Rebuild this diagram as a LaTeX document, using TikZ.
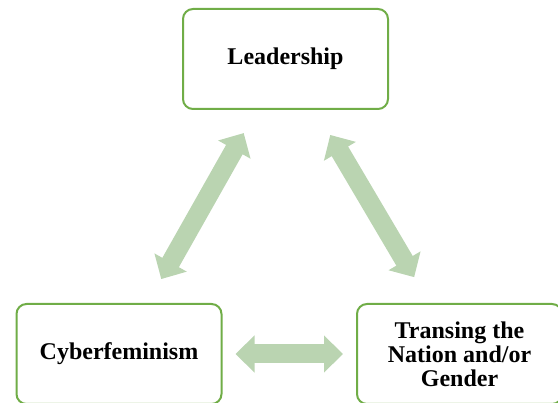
\documentclass[tikz,border=0pt]{standalone}
\usepackage{fontspec}
\setmainfont{Liberation Serif}
\usetikzlibrary{arrows.meta}
\definecolor{boxgreen}{HTML}{70AD47}
\definecolor{arrowgreen}{HTML}{BAD4B1}
\tikzset{
  conceptbox/.style={draw=boxgreen, line width=2pt, rounded corners=10pt,
    minimum width=205pt, minimum height=100pt, align=center,
    font=\fontsize{24}{24}\selectfont\bfseries, fill=white},
  bigarrow/.style={draw=arrowgreen, line width=19pt,
    {Triangle[length=19pt,width=36pt]}-{Triangle[length=19pt,width=36pt]}}
}
\begin{document}
\begin{tikzpicture}[x=1pt,y=-1pt]
  \useasboundingbox (0,0) rectangle (558,403);
  \node[conceptbox] (lead) at (285.5,59) {Leadership};
  \node[conceptbox] (cyber) at (119,354) {Cyberfeminism};
  \node[conceptbox] (trans) at (459.5,354) {Transing the\\Nation and/or\\Gender};
  % two-way links between the three concepts
  \draw[bigarrow, shorten <=27.5pt, shorten >=26.5pt] (cyber) -- (lead);
  \draw[bigarrow, shorten <=29pt, shorten >=30pt] (lead) -- (trans);
  \draw[bigarrow, shorten <=13pt, shorten >=13pt] (cyber) -- (trans);
\end{tikzpicture}
\end{document}
